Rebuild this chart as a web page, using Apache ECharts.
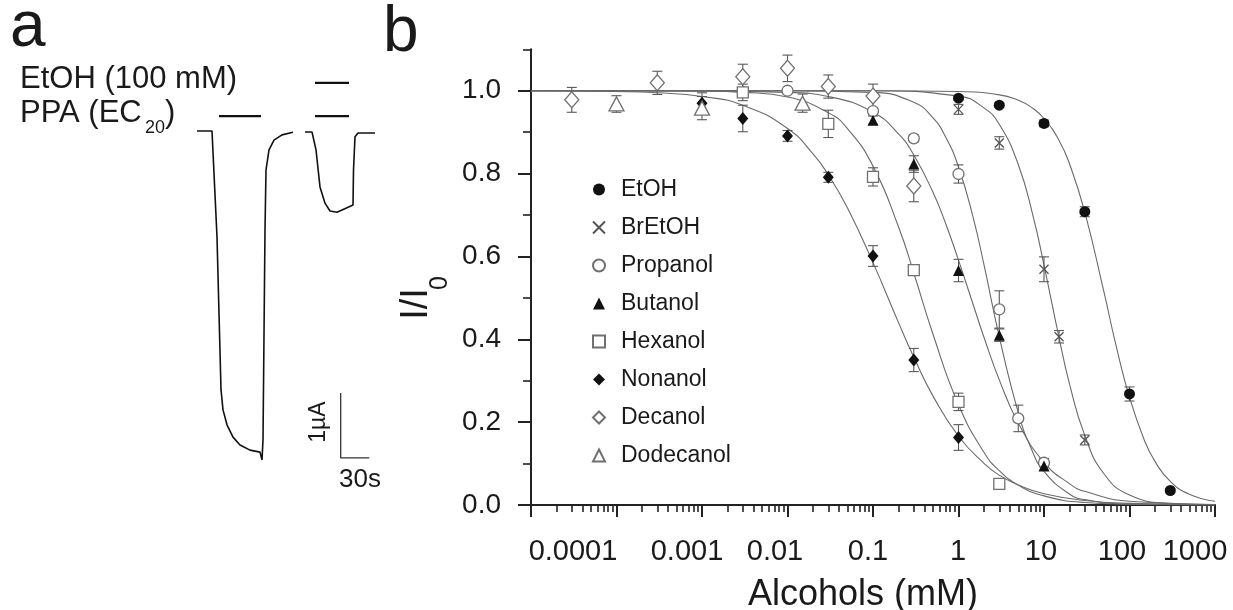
<!DOCTYPE html>
<html>
<head>
<meta charset="utf-8">
<script src="https://cdn.jsdelivr.net/npm/echarts@6/dist/echarts.min.js"></script>
<style>
html,body{margin:0;padding:0;background:#fff;}
#c{width:1233px;height:610px;}
</style>
</head>
<body>
<div id="c"></div>
<script>
// ---------- Panel a: current traces (time s, current µA) ----------
const traceControl = [[7,0],[22,0],[27,-1.63],[31,-3.98],[33,-4.29],[37,-4.52],[43,-4.71],[50,-4.83],[60,-4.91],[70,-4.94],[72,-5.06],[73,-4.75],[75,-1.52],[76,-0.6],[79,-0.29],[84,-0.14],[92,-0.06],[103,-0.02]];
const traceEtOH = [[115,-0.015],[122,-0.015],[126,-0.29],[130,-0.86],[135,-1.11],[140,-1.23],[147,-1.25],[157,-1.18],[163,-1.14],[163.5,-0.6],[165,-0.09],[168,-0.03],[185,-0.03]];
const barPPA1 = [[29,0.23],[71,0.23]];
const barPPA2 = [[125,0.23],[159,0.23]];
const barEtOH = [[125,0.74],[159,0.74]];
const scaleBar = [[150.7,-4.03],[150.7,-5.03],[179.3,-5.03]];

// ---------- Panel b: concentration-response ----------
const xMajorTicks = [1e-5,1e-4,1e-3,0.01,0.1,1,10,100,1000];
const xLabelValues = [1e-4,1e-3,0.01,0.1,1,10,100,1000];
const xLabelText = ['0.0001','0.001','0.01','0.1','1','10','100','1000'];
const yMajorTicks = [0,0.2,0.4,0.6,0.8,1.0];
const yMinorTicks = [0.1,0.3,0.5,0.7,0.9,1.1];
const seriesNames = ['EtOH','BrEtOH','Propanol','Butanol','Hexanol','Nonanol','Decanol','Dodecanol'];

// points: [concentration mM, I/I0, error]
const ptsEtOH = [[1,0.982,0.005],[3,0.965,0.005],[10,0.921,0.008],[30,0.708,0.012],[100,0.268,0.017],[300,0.035,0.004]];
const ptsBrEtOH = [[1,0.955,0.012],[3,0.874,0.015],[10,0.569,0.03],[15,0.406,0.015],[30,0.157,0.012]];
const ptsPropanol = [[0.01,1.0,0.005],[0.1,0.951,0.008],[0.3,0.885,0.008],[1,0.799,0.022],[3,0.472,0.045],[5,0.209,0.032],[10,0.102,0.01]];
const ptsButanol = [[0.1,0.929,0.01],[0.3,0.823,0.02],[1,0.566,0.027],[3,0.410,0.015],[10,0.094,0.01]];
const ptsHexanol = [[0.003,0.996,0.02],[0.03,0.920,0.033],[0.1,0.792,0.022],[0.3,0.567,0.012],[1,0.249,0.021],[3,0.051,0]];
const ptsNonanol = [[0.001,0.970,0.025],[0.003,0.933,0.032],[0.01,0.891,0.013],[0.03,0.791,0.012],[0.1,0.601,0.025],[0.3,0.350,0.028],[1,0.163,0.031]];
const ptsDecanol = [[0.00003,0.978,0.03],[0.0003,1.019,0.028],[0.003,1.034,0.03],[0.01,1.054,0.032],[0.03,1.010,0.028],[0.1,0.987,0.029],[0.3,0.770,0.038]];
const ptsDodecanol = [[0.0001,0.968,0.02],[0.001,0.958,0.028],[0.015,0.970,0.022]];

// fitted curves: [concentration mM, I/I0]
const fitEtOH = [[1e-5,1],[0.1,1],[1,0.998],[3,0.990],[5,0.977],[7,0.961],[10,0.933],[15,0.880],[20,0.822],[30,0.707],[50,0.516],[70,0.383],[100,0.260],[150,0.155],[200,0.104],[300,0.057],[500,0.026],[1000,0.009]];
const fitBrEtOH = [[1e-5,1],[0.1,1],[1,0.987],[2,0.958],[3,0.919],[5,0.822],[7.5,0.695],[10,0.579],[15,0.404],[20,0.290],[30,0.168],[50,0.076],[100,0.024],[300,0.004],[1000,0.0005]];
const fitPropanol = [[1e-5,1],[0.01,1],[0.1,0.996],[0.3,0.972],[0.5,0.935],[0.7,0.890],[1,0.816],[1.5,0.690],[2,0.577],[3,0.406],[5,0.223],[7,0.139],[10,0.081],[20,0.026],[30,0.013],[100,0.002],[1000,0.0001]];
const fitButanol = [[1e-5,1],[0.001,0.9996],[0.01,0.996],[0.03,0.986],[0.1,0.948],[0.2,0.895],[0.3,0.845],[0.5,0.756],[0.7,0.682],[1,0.591],[1.5,0.481],[2,0.403],[3,0.302],[5,0.198],[10,0.103],[20,0.051],[30,0.033],[100,0.009],[1000,0.001]];
const fitHexanol = [[1e-5,1],[1e-4,1],[1e-3,0.999],[3e-3,0.996],[0.01,0.985],[0.03,0.947],[0.05,0.909],[0.1,0.818],[0.2,0.670],[0.3,0.560],[0.5,0.414],[1,0.242],[2,0.126],[3,0.083],[5,0.048],[10,0.022],[30,0.006],[100,0.002],[1000,0]];
const fitNonanol = [[1e-5,1],[1e-4,0.998],[3e-4,0.995],[1e-3,0.986],[3e-3,0.965],[0.01,0.909],[0.02,0.847],[0.03,0.797],[0.05,0.718],[0.1,0.585],[0.2,0.439],[0.3,0.357],[0.5,0.264],[1,0.166],[2,0.100],[3,0.072],[5,0.048],[10,0.027],[30,0.011],[100,0.004],[1000,0.0006]];

// ---------- build ----------
const FONT = '"Liberation Sans", Arial, Helvetica, sans-serif';
const xMinorTicks = [];
for (let d = -5; d < 3; d++) { for (let k = 2; k <= 9; k++) { xMinorTicks.push(+(k * Math.pow(10, d)).toPrecision(6)); } }
const labelShiftPad = [87, 30, 25, 10, 1, 6, 15, 40];
const rich = {};
labelShiftPad.forEach((p, i) => { rich['s' + i] = { fontSize: 29, fontFamily: FONT, color: '#1a1a1a', padding: [0, p, 0, 0] }; });

const GRAY = '#707070';
const styles = {
  EtOH:      { symbol: 'circle',   size: 11,      color: '#111', border: '#111', bw: 0 },
  BrEtOH:    { symbol: 'path://M0,0L10,10M10,0L0,10', size: 9, color: 'rgba(0,0,0,0)', border: '#555', bw: 1.3 },
  Propanol:  { symbol: 'circle',   size: 11,      color: '#fff', border: GRAY, bw: 1.3 },
  Butanol:   { symbol: 'triangle', size: 11,      color: '#111', border: '#111', bw: 0 },
  Hexanol:   { symbol: 'rect',     size: 11,      color: '#fff', border: GRAY, bw: 1.3 },
  Nonanol:   { symbol: 'diamond',  size: [11,13], color: '#111', border: '#111', bw: 0 },
  Decanol:   { symbol: 'diamond',  size: [14,16], color: '#fff', border: GRAY, bw: 1.3 },
  Dodecanol: { symbol: 'triangle', size: [15,14], color: '#fff', border: GRAY, bw: 1.3 }
};
const ptsMap = { EtOH: ptsEtOH, BrEtOH: ptsBrEtOH, Propanol: ptsPropanol, Butanol: ptsButanol, Hexanol: ptsHexanol, Nonanol: ptsNonanol, Decanol: ptsDecanol, Dodecanol: ptsDodecanol };
const fits = [fitEtOH, fitBrEtOH, fitPropanol, fitButanol, fitHexanol, fitNonanol];

const series = [];
// panel a
const traceLine = { type: 'line', xAxisIndex: 0, yAxisIndex: 0, showSymbol: false, silent: true, lineStyle: { color: '#111', width: 1.6 } };
series.push(Object.assign({}, traceLine, { data: traceControl }));
series.push(Object.assign({}, traceLine, { data: traceEtOH }));
[barPPA1, barPPA2, barEtOH].forEach(b => series.push(Object.assign({}, traceLine, { data: b, lineStyle: { color: '#111', width: 2.2 } })));
series.push(Object.assign({}, traceLine, { data: scaleBar, lineStyle: { color: '#333', width: 1.3 } }));

// panel b curves
fits.forEach(f => series.push({ type: 'line', xAxisIndex: 1, yAxisIndex: 1, data: f, showSymbol: false, silent: true, smooth: 0.5, z: 1, lineStyle: { color: '#6a6a6a', width: 1.1 } }));
// error bars
seriesNames.forEach(n => {
  series.push({
    type: 'custom', xAxisIndex: 1, yAxisIndex: 1, silent: true, z: 2,
    data: ptsMap[n].filter(p => p[2] > 0),
    encode: { x: 0, y: 1 },
    renderItem: function (params, api) {
      const x = api.value(0), y = api.value(1), e = api.value(2);
      const t = api.coord([x, y + e]), b = api.coord([x, y - e]);
      const c = 5;
      const st = { stroke: '#5a5a5a', lineWidth: 1.1 };
      return { type: 'group', children: [
        { type: 'line', shape: { x1: t[0], y1: t[1], x2: b[0], y2: b[1] }, style: st },
        { type: 'line', shape: { x1: t[0] - c, y1: t[1], x2: t[0] + c, y2: t[1] }, style: st },
        { type: 'line', shape: { x1: b[0] - c, y1: b[1], x2: b[0] + c, y2: b[1] }, style: st }
      ] };
    }
  });
});
// points
seriesNames.forEach(n => {
  const s = styles[n];
  series.push({
    name: n, type: 'scatter', xAxisIndex: 1, yAxisIndex: 1, z: 3,
    data: ptsMap[n].map(p => [p[0], p[1]]),
    symbol: s.symbol, symbolSize: s.size,
    itemStyle: { color: s.color, borderColor: s.border, borderWidth: s.bw, opacity: 1 }
  });
});

const axisColor = '#222';
const option = {
  animation: false,
  backgroundColor: '#fff',
  grid: [
    { left: 190, top: 66, width: 200, height: 400, outerBoundsMode: 'none', containLabel: false },
    { left: 531, top: 49.3, width: 684, height: 455.7, outerBoundsMode: 'none', containLabel: false }
  ],
  xAxis: [
    { type: 'value', gridIndex: 0, min: 0, max: 200, show: false },
    { type: 'log', logBase: 10, gridIndex: 1, min: 1e-5, max: 1000, position: 'bottom',
      axisLine: { show: true, onZero: false, lineStyle: { color: axisColor, width: 2 } },
      axisTick: { show: true, length: 12, customValues: xMajorTicks, lineStyle: { color: axisColor, width: 2 } },
      minorTick: { show: false }, splitLine: { show: false },
      axisLabel: { show: true, margin: 32, customValues: xLabelValues,
        formatter: function (v) { const i = Math.round(Math.log10(v)) + 4; return '{s' + i + '|' + xLabelText[i] + '}'; },
        rich: rich, fontSize: 29, fontFamily: FONT, color: '#1a1a1a' },
      name: 'Alcohols (mM)', nameLocation: 'middle', nameGap: 72,
      nameTextStyle: { fontSize: 36, fontFamily: FONT, color: '#1a1a1a', padding: [0, 20, 0, 0] }
    },
    { type: 'log', logBase: 10, gridIndex: 1, min: 1e-5, max: 1000, position: 'bottom', offset: 0,
      axisLine: { show: false },
      axisTick: { show: true, length: 7, customValues: xMinorTicks, lineStyle: { color: axisColor, width: 1.6 } },
      axisLabel: { show: false }, splitLine: { show: false } }
  ],
  yAxis: [
    { type: 'value', gridIndex: 0, min: -5.154, max: 1, show: false },
    { type: 'value', gridIndex: 1, min: 0, max: 1.1, position: 'left',
      axisLine: { show: true, onZero: false, lineStyle: { color: axisColor, width: 2 } },
      axisTick: { show: true, length: 13, customValues: yMajorTicks, lineStyle: { color: axisColor, width: 2 } },
      splitLine: { show: false },
      axisLabel: { show: true, margin: 30, customValues: yMajorTicks, formatter: v => v.toFixed(1),
        fontSize: 28, fontFamily: FONT, color: '#1a1a1a' } },
    { type: 'value', gridIndex: 1, min: 0, max: 1.1, position: 'left', offset: 0,
      axisLine: { show: false },
      axisTick: { show: true, length: 8, customValues: yMinorTicks, lineStyle: { color: axisColor, width: 1.6 } },
      axisLabel: { show: false }, splitLine: { show: false } }
  ],
  legend: {
    data: seriesNames, orient: 'vertical', left: 587, top: 173,
    itemWidth: 12, itemHeight: 12, itemGap: 15, selectedMode: false,
    textStyle: { fontSize: 23, fontFamily: FONT, color: '#1a1a1a', padding: [0, 0, 0, 11] }
  },
  graphic: [
    { type: 'text', x: 10, y: 28.5, style: { text: 'a', font: '64px ' + FONT, fill: '#1a1a1a', textVerticalAlign: 'middle' } },
    { type: 'text', x: 383, y: 33, style: { text: 'b', font: '64px ' + FONT, fill: '#1a1a1a', textVerticalAlign: 'middle' } },
    { type: 'text', x: 20, y: 79.5, style: { text: 'EtOH (100 mM)', font: '31px ' + FONT, fill: '#1a1a1a', textVerticalAlign: 'middle' } },
    { type: 'text', x: 20, y: 113.5, style: { text: 'PPA (EC', font: '31px ' + FONT, fill: '#1a1a1a', textVerticalAlign: 'middle' } },
    { type: 'text', x: 145, y: 128.5, style: { text: '20', font: '18px ' + FONT, fill: '#1a1a1a', textVerticalAlign: 'middle' } },
    { type: 'text', x: 165, y: 113.5, style: { text: ')', font: '31px ' + FONT, fill: '#1a1a1a', textVerticalAlign: 'middle' } },
    { type: 'text', x: 319, y: 422, rotation: Math.PI / 2, style: { text: '1µA', font: '23px ' + FONT, fill: '#1a1a1a', textAlign: 'center', textVerticalAlign: 'middle' } },
    { type: 'text', x: 360, y: 480, style: { text: '30s', font: '26px ' + FONT, fill: '#1a1a1a', textAlign: 'center', textVerticalAlign: 'middle' } },
    { type: 'text', x: 417, y: 304, rotation: Math.PI / 2, style: { text: 'I/I', font: '38px ' + FONT, fill: '#1a1a1a', textAlign: 'center', textVerticalAlign: 'middle' } },
    { type: 'text', x: 440, y: 283, rotation: Math.PI / 2, style: { text: '0', font: '25px ' + FONT, fill: '#1a1a1a', textAlign: 'center', textVerticalAlign: 'middle' } }
  ],
  series: series
};
const chart = echarts.init(document.getElementById('c'), null, { renderer: 'canvas' });
chart.setOption(option);
</script>
</body>
</html>
